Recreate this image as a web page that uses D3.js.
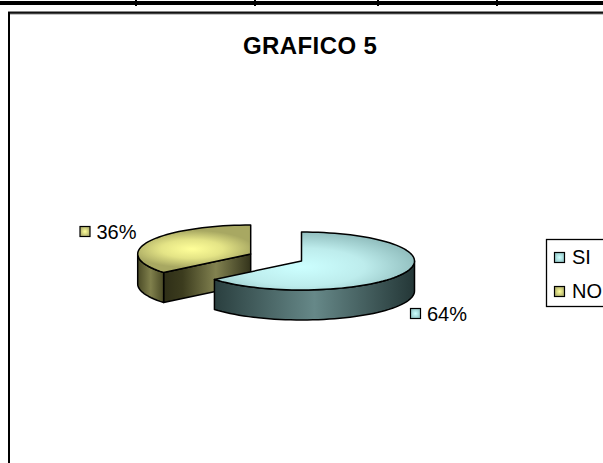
<!DOCTYPE html>
<html><head><meta charset="utf-8">
<script src="https://cdn.jsdelivr.net/npm/d3@7"></script>
<style>html,body{margin:0;padding:0;background:#fff}svg{display:block}text{font-family:"Liberation Sans",Arial,sans-serif;fill:#000}</style>
</head><body><svg id="c" width="603" height="463"></svg>
<script>
const categories = ["SI","NO"];
const values = [64,36];
const labels = ["64%","36%"];
const title = "GRAFICO 5";
const topTicks = [135,254,377,496];

const svg = d3.select("#c");
const defs = svg.append("defs");
function rg(id, stops, cx, cy, r){
  const g = defs.append("radialGradient").attr("id",id).attr("gradientUnits","userSpaceOnUse")
    .attr("cx",cx).attr("cy",cy).attr("r",r).attr("gradientTransform",`translate(${cx} ${cy}) scale(1 0.3) translate(${-cx} ${-cy})`);
  stops.forEach(s=>g.append("stop").attr("offset",s[0]).attr("stop-color",s[1]));
}
function lg(id, stops){
  const g = defs.append("linearGradient").attr("id",id).attr("x1",0).attr("x2",1).attr("y1",0).attr("y2",0);
  stops.forEach(s=>g.append("stop").attr("offset",s[0]).attr("stop-color",s[1]));
}
function box(id, c0, c1){
  const g = defs.append("radialGradient").attr("id",id);
  g.append("stop").attr("offset",0).attr("stop-color",c0);
  g.append("stop").attr("offset",1).attr("stop-color",c1);
}
const cBlue=[301.5,261], cYel=[250.7,254];
rg("tBlue",[[0,"#ccffff"],[0.55,"#bdecec"],[1,"#93c0c0"]],cBlue[0],cBlue[1]+6,115);
rg("tYel",[[0,"#ffff99"],[0.5,"#e4e486"],[1,"#a8a862"]],192,249,62);
lg("sBlue",[[0,"#2a3f3f"],[0.5,"#668888"],[1,"#243737"]]);
lg("sYel",[[0,"#2e2e17"],[0.22,"#3c3c1e"],[0.6,"#828250"],[1,"#33331b"]]);
lg("sYel2",[[0,"#4a4a26"],[0.5,"#80804c"],[1,"#4a4a26"]]);
box("kBlue","#ccffff","#99cccc");
box("kYel","#ffff99","#b5b570");

// page furniture
svg.append("rect").attr("x",0).attr("y",1).attr("width",603).attr("height",4).attr("fill","#000");
svg.selectAll(".t").data(topTicks).enter().append("rect").attr("x",d=>d).attr("y",0).attr("width",2).attr("height",6).attr("fill","#000");
svg.append("rect").attr("x",8).attr("y",11).attr("width",595).attr("height",3.5).attr("fill","#888");
svg.append("rect").attr("x",8).attr("y",12).attr("width",595).attr("height",1.6).attr("fill","#111");
svg.append("rect").attr("x",8).attr("y",12).attr("width",2).attr("height",451).attr("fill","#000");

svg.append("text").attr("x",243).attr("y",54)
  .attr("font-size",24).attr("font-weight","bold").attr("letter-spacing","0.4").text(title);

// pie
const pie = d3.pie().sort(null).value(d=>d);
const arcs = pie(values);
const rx = d3.scaleLinear().domain([0,1]).range([0,113]);
const ry = d3.scaleLinear().domain([0,1]).range([0,29]);
const depth = 30;
function pt(c,a,dy=0){return [c[0]+rx(Math.sin(a)), c[1]-ry(Math.cos(a))+dy];}
function samples(a0,a1){const n=Math.max(2,Math.ceil((a1-a0)/0.05));return d3.range(n+1).map(i=>a0+(a1-a0)*i/n);}
const line = d3.line();
function topFace(c,a0,a1){return line([c,...samples(a0,a1).map(a=>pt(c,a))])+"Z";}
function wall(c,a0,a1){
  const s=samples(a0,a1);
  return line([...s.map(a=>pt(c,a)),...s.slice().reverse().map(a=>pt(c,a,depth))])+"Z";
}
function cut(c,a){return line([c,pt(c,a),pt(c,a,depth),[c[0],c[1]+depth]])+"Z";}

const stroke={stroke:"#000","stroke-width":1.5,"stroke-linejoin":"round"};
function draw(d,attr){const p=svg.append("path").attr("d",d);Object.entries({...stroke,...attr}).forEach(([k,v])=>p.attr(k,v));}

// yellow slice (behind)
const y=arcs[1];
draw(cut(cYel,y.startAngle),{fill:"url(#sYel)"});
draw(wall(cYel,y.startAngle,1.5*Math.PI),{fill:"url(#sYel2)"});
draw(topFace(cYel,y.startAngle,y.endAngle),{fill:"url(#tYel)"});
// blue slice
const b=arcs[0];
draw(wall(cBlue,Math.PI/2,b.endAngle),{fill:"url(#sBlue)"});
draw(topFace(cBlue,b.startAngle,b.endAngle),{fill:"url(#tBlue)"});

// data labels
const keyFill=["url(#kBlue)","url(#kYel)"];
const labelPos=[[410.5,308.5],[80,226.5]];
labels.forEach((t,i)=>{
  svg.append("rect").attr("x",labelPos[i][0]).attr("y",labelPos[i][1]).attr("width",10).attr("height",10)
    .attr("fill",keyFill[i]).attr("stroke","#000").attr("stroke-width",1.2);
  svg.append("text").attr("x",labelPos[i][0]+16.5).attr("y",labelPos[i][1]+12.5).attr("font-size",20).text(t);
});

// legend
svg.append("rect").attr("x",546.5).attr("y",239.5).attr("width",70).attr("height",67)
  .attr("fill","#fff").attr("stroke","#000").attr("stroke-width",1.3);
categories.forEach((t,i)=>{
  const yy=[252.5,286.5][i];
  svg.append("rect").attr("x",554.5).attr("y",yy).attr("width",10).attr("height",10)
    .attr("fill",keyFill[i]).attr("stroke","#000").attr("stroke-width",1.2);
  svg.append("text").attr("x",572).attr("y",yy+11.5).attr("font-size",20).text(t);
});
</script></body></html>
